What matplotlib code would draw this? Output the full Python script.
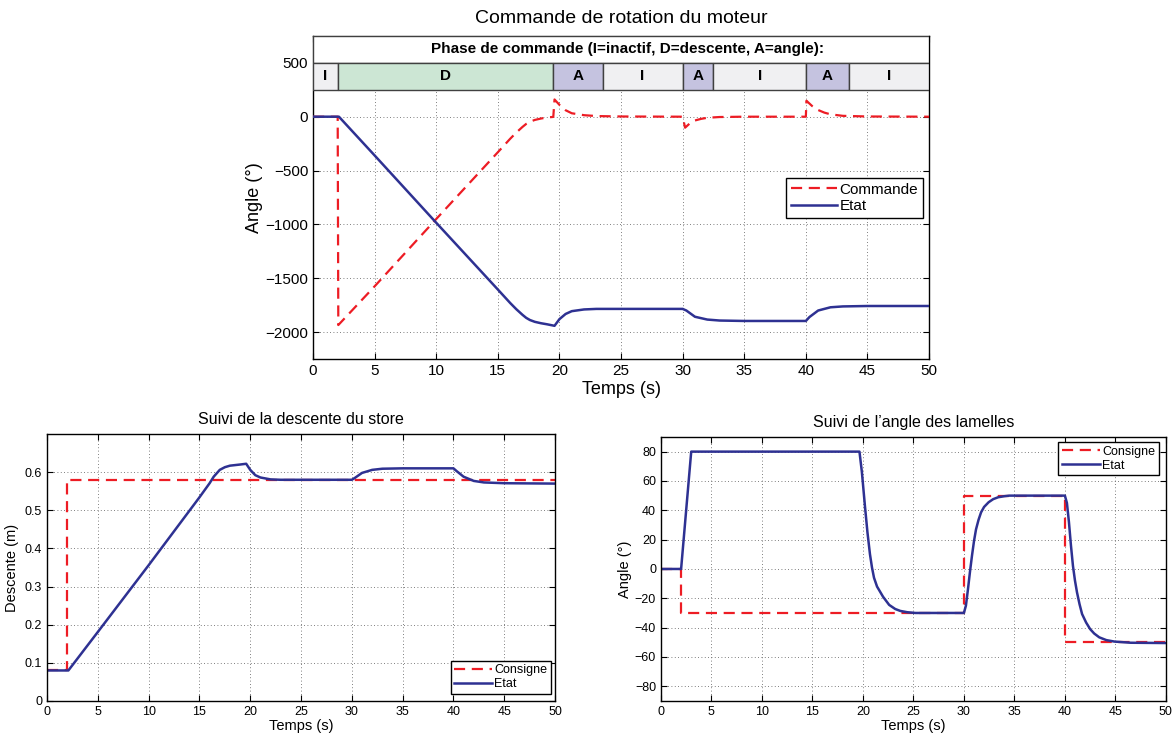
import matplotlib

matplotlib.use("Agg")
import matplotlib.pyplot as plt
from matplotlib.patches import Rectangle

plt.rcParams["font.family"] = ["Liberation Sans", "DejaVu Sans"]

RED = "#ed1c24"
BLUE = "#2e3192"

# --- top chart: motor rotation command / state (degrees) ---
t_cmd = [0, 2.0, 2.05, 5, 10, 15, 16, 16.5, 17, 17.3, 17.6, 18, 18.5, 19, 19.5,
         19.6, 20.0, 20.5, 21, 22, 23, 25, 30, 30.2, 30.6, 31, 31.5, 32, 33, 35,
         40, 40.05, 40.5, 41, 41.5, 42, 43, 45, 50]
cmd = [0, 0, -1935, -1575, -950, -330, -205, -147, -95, -67, -47, -30, -17, -7, -2,
       160, 110, 60, 32, 14, 6, 2, 0, -102, -60, -35, -20, -10, -3, 0,
       0, 148, 100, 62, 38, 22, 8, 2, 0]

t_etat = [0, 2.1, 5, 10, 15, 16, 16.5, 17, 17.3, 17.6, 18, 18.5, 19, 19.6,
          20.0, 20.5, 21, 22, 23, 30, 30.3, 31, 32, 33, 35, 40,
          40.3, 41, 42, 43, 45, 50]
etat = [0, 0, -360, -985, -1605, -1730, -1788, -1840, -1868, -1888, -1905, -1918, -1928, -1942,
        -1880, -1832, -1806, -1790, -1785, -1785, -1800, -1858, -1884, -1893, -1897, -1897,
        -1860, -1800, -1770, -1762, -1758, -1758]

phase_labels = ["I", "D", "A", "I", "A", "I", "A", "I"]
phase_bounds = [0, 2, 19.5, 23.5, 30, 32.5, 40, 43.5, 50]
phase_colors = {"I": "#f0f0f2", "D": "#cce6d4", "A": "#c5c3e0"}

# --- bottom left: descent of the blind (m) ---
t_desc_cons = [0, 2.0, 2.0, 50]
desc_cons = [0.08, 0.08, 0.58, 0.58]
t_desc = [0, 2.1, 5, 10, 15, 16, 16.4, 17, 17.5, 18, 19, 19.6,
          20.0, 20.5, 21, 22, 23, 30, 30.3, 31, 32, 33, 35, 40,
          40.3, 41, 42, 43, 45, 50]
desc = [0.08, 0.08, 0.181, 0.356, 0.534, 0.571, 0.588, 0.606, 0.613, 0.617, 0.620, 0.622,
        0.606, 0.592, 0.586, 0.581, 0.580, 0.580, 0.585, 0.598, 0.606, 0.609, 0.610, 0.610,
        0.603, 0.588, 0.577, 0.573, 0.571, 0.570]

# --- bottom right: slat angle (degrees) ---
t_ang_cons = [0, 2.0, 2.0, 30, 30, 40, 40, 50]
ang_cons = [0, 0, -30, -30, 50, 50, -50, -50]
t_ang = [0, 2.0, 3.0, 19.66, 19.9, 20.2, 20.45, 20.7, 20.9, 21.1, 21.4, 22.0, 22.6,
         23.2, 23.7, 24.4, 25.2, 30.0,
         30.2, 30.4, 30.6, 30.8, 31.0, 31.2, 31.45, 31.7, 32.0, 32.45, 32.9, 33.4,
         34.0, 34.5, 40.0,
         40.2, 40.4, 40.6, 40.8, 41.0, 41.2, 41.45, 41.7, 42.1, 42.5, 42.9, 43.4,
         44.1, 44.9, 46.5, 50]
ang = [0, 0, 80, 80, 66, 43, 25, 10, 1, -6, -12, -19, -24.5,
       -27.3, -28.6, -29.5, -30, -30,
       -25, -14, -2, 9, 19, 27, 33.5, 38.6, 42.3, 45.5, 47.6, 48.9,
       49.6, 50, 50,
       45, 32, 16, 2, -8, -16, -24, -30.7, -36.5, -41, -44, -46.6,
       -48.5, -49.5, -50.3, -50.5]


def style_axes(ax, tick_size):
    ax.tick_params(direction="in", top=True, right=True, length=4,
                   labelsize=tick_size, width=0.8)
    ax.grid(True, color="#555555", linestyle=(0, (1, 3)), linewidth=0.6)
    for sp in ax.spines.values():
        sp.set_linewidth(1.0)


def boxed_legend(ax, size, **kw):
    leg = ax.legend(fontsize=size, fancybox=False, framealpha=1, edgecolor="black",
                    handlelength=3.0, borderpad=0.3, labelspacing=0.15,
                    handletextpad=0.2, borderaxespad=0, **kw)
    leg.get_frame().set_linewidth(1.0)
    return leg


fig = plt.figure(figsize=(11.76, 7.35), dpi=100)

# ---------------- top ----------------
ax = fig.add_axes([0.2662, 0.5116, 0.5238, 0.4395])
ax.plot(t_cmd, cmd, color=RED, linewidth=1.6, dashes=(5, 3), label="Commande", zorder=4)
ax.plot(t_etat, etat, color=BLUE, linewidth=1.8, label="Etat", zorder=5)
ax.set_xlim(0, 50)
ax.set_ylim(-2250, 750)
ax.set_xticks(range(0, 51, 5))
ax.set_yticks(range(-2000, 501, 500))
style_axes(ax, 11)
ax.set_xlabel("Temps (s)", fontsize=13, labelpad=2)
ax.set_ylabel("Angle (°)", fontsize=13, labelpad=2)
ax.set_title("Commande de rotation du moteur", fontsize=14, pad=9)

ax.add_patch(Rectangle((0, 500), 50, 250, facecolor="white", edgecolor="#404040",
                       linewidth=1.0, zorder=6))
ax.text(25.5, 625, "Phase de commande (I=inactif, D=descente, A=angle):",
        ha="center", va="center", fontsize=11, fontweight="bold", zorder=7)
for lab, x0, x1 in zip(phase_labels, phase_bounds[:-1], phase_bounds[1:]):
    ax.add_patch(Rectangle((x0, 250), x1 - x0, 250, facecolor=phase_colors[lab],
                           edgecolor="#404040", linewidth=1.0, zorder=6))
    ax.text((x0 + x1) / 2, 375, lab, ha="center", va="center", fontsize=11,
            fontweight="bold", zorder=7)

boxed_legend(ax, 11, loc="upper right", bbox_to_anchor=(0.99, 0.56))

# ---------------- bottom left ----------------
ax2 = fig.add_axes([0.040, 0.0463, 0.432, 0.3632])
ax2.plot(t_desc_cons, desc_cons, color=RED, linewidth=1.6, dashes=(5, 3), label="Consigne")
ax2.plot(t_desc, desc, color=BLUE, linewidth=1.8, label="Etat")
ax2.set_xlim(0, 50)
ax2.set_ylim(0, 0.7)
ax2.set_xticks(range(0, 51, 5))
ax2.set_yticks([0, 0.1, 0.2, 0.3, 0.4, 0.5, 0.6])
ax2.set_yticklabels(["0", "0.1", "0.2", "0.3", "0.4", "0.5", "0.6"])
style_axes(ax2, 9)
ax2.set_xlabel("Temps (s)", fontsize=10.5, labelpad=1)
ax2.set_ylabel("Descente (m)", fontsize=10.5, labelpad=4)
ax2.set_title("Suivi de la descente du store", fontsize=11.5, pad=7)
boxed_legend(ax2, 9, loc="lower right", bbox_to_anchor=(0.992, 0.026))

# ---------------- bottom right ----------------
ax3 = fig.add_axes([0.562, 0.0463, 0.4294, 0.3592])
ax3.plot(t_ang_cons, ang_cons, color=RED, linewidth=1.6, dashes=(5, 3), label="Consigne")
ax3.plot(t_ang, ang, color=BLUE, linewidth=1.8, label="Etat")
ax3.set_xlim(0, 50)
ax3.set_ylim(-90, 90)
ax3.set_xticks(range(0, 51, 5))
ax3.set_yticks(range(-80, 81, 20))
style_axes(ax3, 9)
ax3.set_xlabel("Temps (s)", fontsize=10.5, labelpad=1)
ax3.set_ylabel("Angle (°)", fontsize=10.5, labelpad=2)
ax3.set_title("Suivi de l’angle des lamelles", fontsize=11.5, pad=7)
boxed_legend(ax3, 9, loc="upper right", bbox_to_anchor=(0.986, 0.981))

fig.savefig("out.png", dpi=100)
plt.close(fig)
